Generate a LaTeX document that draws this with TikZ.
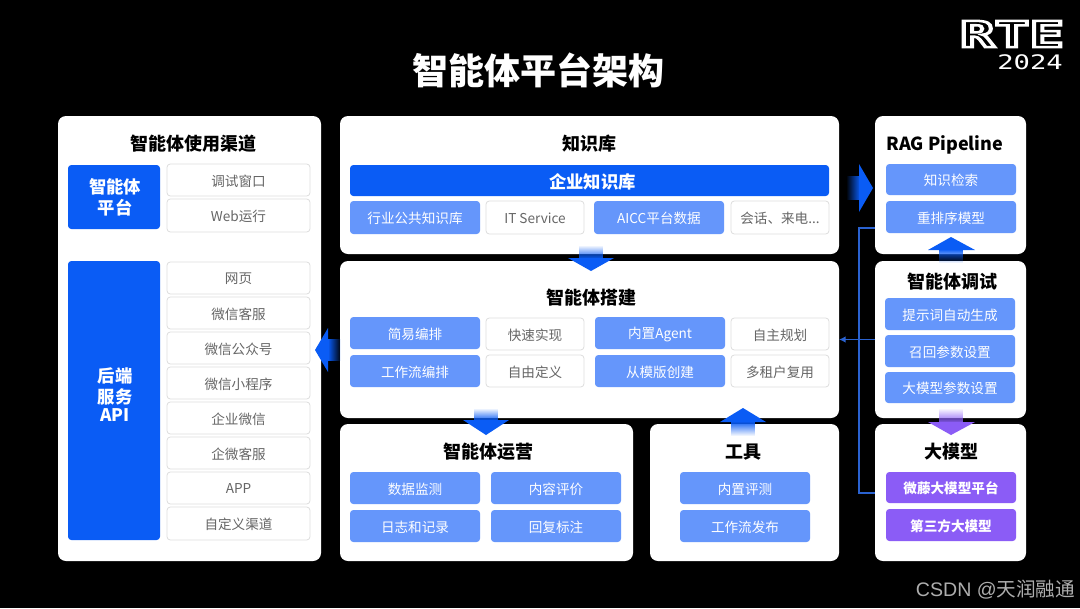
\documentclass[tikz,border=0pt]{standalone}
\usepackage{fontspec}
\setmainfont{Noto Sans CJK SC}
\newfontfamily\logofont{DejaVu Sans Mono}
\newfontfamily\latfont{Liberation Sans}
\usetikzlibrary{fadings,arrows.meta}
\definecolor{cmain}{HTML}{0A5CF5}
\definecolor{clight}{HTML}{6596FB}
\definecolor{cpurple}{HTML}{8B5CF6}
\definecolor{cline}{HTML}{2A62D0}
\definecolor{cedge}{HTML}{DEDEDE}
\definecolor{cgrey}{HTML}{666666}
\newcommand{\fsz}[1]{\fontsize{#1}{#1}\selectfont}
\newcommand{\shiftv}[2]{\raisebox{#1}[\height][\depth]{#2}}
\newcommand{\bx}[7]{\node[#2,minimum width={(#5-#3)*0.75pt},minimum height={(#6-#4)*0.75pt}] (#1) at ({(#3+#5)/2},{(#4+#6)/2}) {\shiftv{-.75pt}{#7}};}
\newcommand{\tx}[5]{\node[#2] (#1) at (#3,#4) {#5};}
\newcommand{\stk}[1]{\begin{tabular}{@{}c@{}}#1\end{tabular}}
\tikzset{
 panel/.style={fill=white,rounded corners=6pt,inner sep=0pt,outer sep=0pt},
 base/.style={rounded corners=2.5pt,inner sep=0pt,outer sep=0pt,align=center},
 bluebox/.style={base,fill=clight,text=white,font=\fsz{10.2pt}},
 mainbox/.style={base,fill=cmain,text=white,font=\fsz{13pt}\bfseries},
 whitebox/.style={base,fill=white,draw=cedge,line width=.6pt,text=cgrey,font=\fsz{10.2pt}},
 purplebox/.style={base,fill=cpurple,text=white,font=\fsz{10.2pt}\bfseries},
 head/.style={inner sep=0pt,text=black,yshift=-.75pt,font=\fsz{13.5pt}\bfseries},
 thinlink/.style={draw=cline,line width=1pt},
}
\begin{document}
\begin{tikzpicture}[x=0.75pt,y=-0.75pt]
\useasboundingbox (0,0) rectangle (1080,608);
\fill[black] (0,0) rectangle (1080,608);
% panels
\bx{left}{panel}{58}{116}{321}{561}{}
\bx{kb}{panel}{340}{116}{839}{254}{}
\bx{build}{panel}{340}{261}{839}{418}{}
\bx{ops}{panel}{340}{424}{633}{561}{}
\bx{tools}{panel}{650}{424}{839}{561}{}
\bx{rag}{panel}{875}{116}{1026}{254}{}
\bx{debug}{panel}{875}{261}{1026}{418}{}
\bx{llm}{panel}{875}{424}{1026}{561}{}
% title + logo
\tx{title}{inner sep=0pt,text=white,font=\fsz{27pt}\bfseries}{538.5}{70}{智能体平台架构}
\node[inner sep=0pt,text=white,xscale=1.6,font=\logofont\bfseries\fsz{27pt}] (logoa) at (1012,34) {\special{pdf:code 1 Tr 1.9 w}RTE\special{pdf:code 0 Tr}};
\node[inner sep=0pt,text=white,xscale=1.36,font=\logofont\fsz{15pt}] (logob) at (1030,62) {2024};
% left
\tx{th1}{head}{193}{143}{智能体使用渠道}
\bx{l1}{mainbox}{68}{165}{160}{229}{\hspace*{1.5pt}\shiftv{-.75pt}{\stk{智能体\\[.8pt]平台}}}
\bx{l2}{mainbox}{68}{261}{160}{540}{\hspace*{1.5pt}\shiftv{3pt}{\stk{后端\\[.3pt]服务\\[.3pt]API}}}
\bx{w1}{whitebox}{167}{164}{310}{196}{调试窗口}
\bx{w2}{whitebox}{167}{199}{310}{232}{Web运行}
\bx{w3}{whitebox}{167}{262}{310}{294}{网页}
\bx{w4}{whitebox}{167}{297}{310}{329}{微信客服}
\bx{w5}{whitebox}{167}{332}{310}{364}{微信公众号}
\bx{w6}{whitebox}{167}{367}{310}{399}{微信小程序}
\bx{w7}{whitebox}{167}{402}{310}{434}{企业微信}
\bx{w8}{whitebox}{167}{437}{310}{469}{企微客服}
\bx{w9}{whitebox}{167}{472}{310}{504}{APP}
\bx{w10}{whitebox}{167}{507}{310}{540}{自定义渠道}
% knowledge base
\tx{th2}{head}{589}{143}{知识库}
\bx{k0}{mainbox}{350}{165}{829}{196}{\hspace*{4.5pt}企业知识库}
\bx{k1}{bluebox}{350}{201}{480}{234}{行业公共知识库}
\bx{k2}{whitebox}{486}{201}{584}{234}{IT Service}
\bx{k3}{bluebox}{594}{201}{724}{234}{AICC平台数据}
\bx{k4}{whitebox}{731}{201}{829}{234}{会话、来电...}
% build
\tx{th3}{head}{591}{297}{智能体搭建}
\bx{b1}{bluebox}{350}{317}{480}{349}{简易编排}
\bx{b2}{whitebox}{486}{318}{584}{350}{快速实现}
\bx{b3}{bluebox}{595}{317}{725}{349}{内置Agent}
\bx{b4}{whitebox}{731}{318}{829}{350}{自主规划}
\bx{b5}{bluebox}{350}{355}{480}{387}{工作流编排}
\bx{b6}{whitebox}{486}{355}{584}{387}{自由定义}
\bx{b7}{bluebox}{595}{355}{725}{387}{从模版创建}
\bx{b8}{whitebox}{731}{355}{829}{387}{多租户复用}
% ops
\tx{th4}{head}{488}{451}{智能体运营}
\bx{o1}{bluebox}{350}{472}{480}{504}{数据监测}
\bx{o2}{bluebox}{491}{472}{621}{504}{内容评价}
\bx{o3}{bluebox}{350}{510}{480}{542}{日志和记录}
\bx{o4}{bluebox}{491}{510}{621}{542}{回复标注}
% tools
\tx{th5}{head}{743}{451}{工具}
\bx{t1}{bluebox}{680}{472}{810}{504}{内置评测}
\bx{t2}{bluebox}{680}{510}{810}{542}{工作流发布}
% rag
\tx{th6}{head}{945}{144}{RAG Pipeline}
\bx{r1}{bluebox}{886}{164}{1016}{195}{知识检索}
\bx{r2}{bluebox}{886}{201}{1016}{233}{重排序模型}
% debug
\tx{th7}{head}{952}{281}{智能体调试}
\bx{d1}{bluebox}{885}{298}{1015}{330}{提示词自动生成}
\bx{d2}{bluebox}{885}{335}{1015}{367}{召回参数设置}
\bx{d3}{bluebox}{885}{372}{1015}{403}{大模型参数设置}
% llm
\tx{th8}{head}{951}{451}{大模型}
\bx{m1}{purplebox}{886}{472}{1016}{503}{微藤大模型平台}
\bx{m2}{purplebox}{886}{509}{1016}{541}{第三方大模型}
% thin connectors
\coordinate (ragport) at (875,228);
\coordinate (llmport) at (875,493);
\coordinate (busa) at (859,228);
\coordinate (busb) at (859,493);
\draw[thinlink] (ragport) -- (busa) -- (busb) -- (llmport);
\draw[thinlink,-{Latex[length=5pt,width=5pt]}] (debug.west) -- (build.east);
% block arrows
\fill[cmain,path fading=west] (846,176) rectangle (860,200);
\fill[cmain] (859,164) -- (873,188) -- (859,212) -- cycle;
\fill[cmain,path fading=east] (328,339) rectangle (341,361);
\fill[cmain] (328,328) -- (315,350) -- (328,372) -- cycle;
\fill[cmain,path fading=north] (579,245) rectangle (603,259);
\fill[cmain] (568,258) -- (614,258) -- (591,271) -- cycle;
\fill[cmain,path fading=north] (474,408) rectangle (498,421);
\fill[cmain] (463,420) -- (509,420) -- (486,435) -- cycle;
\fill[cmain,path fading=south] (731,421) rectangle (755,436);
\fill[cmain] (720,422) -- (766,422) -- (743,408) -- cycle;
\fill[cmain,path fading=south] (939,249) rectangle (963,263);
\fill[cmain] (928,250) -- (975,250) -- (951,237) -- cycle;
\fill[cpurple,path fading=north] (939,408) rectangle (963,423);
\fill[cpurple] (928,422) -- (975,422) -- (951,435) -- cycle;
% watermark
\node[inner sep=0pt,text=white!68!black,font=\fsz{14.7pt}] (mark) at (995.5,590) {{\latfont CSDN @}天润融通};
\end{tikzpicture}
\end{document}
